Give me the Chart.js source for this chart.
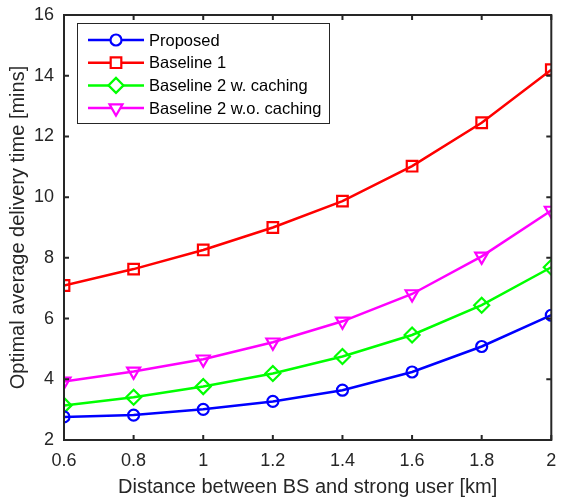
<!DOCTYPE html>
<html>
<head>
<meta charset="utf-8">
<script src="https://cdn.jsdelivr.net/npm/chart.js@4"></script>
<style>
  html, body { margin: 0; padding: 0; background: #fff; }
  #wrap { width: 561px; height: 499px; }
</style>
</head>
<body>
<div id="wrap"><canvas id="chart" width="561" height="499"></canvas></div>
<script>
const distances = [0.6, 0.8, 1.0, 1.2, 1.4, 1.6, 1.8, 2.0];
const xTicks = [0.6, 0.8, 1, 1.2, 1.4, 1.6, 1.8, 2];
const yTicks = [2, 4, 6, 8, 10, 12, 14, 16];

const proposed = [2.76, 2.82, 3.01, 3.27, 3.64, 4.24, 5.08, 6.11];
const baseline1 = [7.09, 7.63, 8.26, 9.0, 9.87, 11.02, 12.45, 14.2];
const baseline2Caching = [3.14, 3.41, 3.76, 4.19, 4.75, 5.46, 6.44, 7.69];
const baseline2NoCaching = [3.93, 4.26, 4.66, 5.22, 5.91, 6.81, 8.05, 9.56];

const seriesNames = ["Proposed", "Baseline 1", "Baseline 2 w. caching", "Baseline 2 w.o. caching"];
const axisColor = "#262626";
const fontFamily = "'Liberation Sans', Arial, sans-serif";

function makeSet(label, values, color, style, radius, rotation) {
    return {
        label: label,
        data: values.map((v, i) => ({ x: distances[i], y: v })),
        borderColor: color,
        backgroundColor: color,
        borderWidth: 2.5,
        pointStyle: style,
        pointRadius: radius,
        pointRotation: rotation || 0,
        pointBorderColor: color,
        pointBackgroundColor: "rgba(0,0,0,0)",
        pointBorderWidth: 2.2,
        tension: 0
    };
}

// legend inside the axes + inward ticks on all sides, matlab style
const matlabAxes = {
    id: "matlabAxes",
    afterDraw(chart) {
        const ctx = chart.ctx;
        const a = chart.chartArea;
        const xs = chart.scales.x, ys = chart.scales.y;
        ctx.save();
        ctx.strokeStyle = axisColor;
        ctx.lineWidth = 2;
        ctx.strokeRect(a.left, a.top, a.right - a.left, a.bottom - a.top);
        ctx.beginPath();
        xTicks.forEach(v => {
            const px = xs.getPixelForValue(v);
            ctx.moveTo(px, a.bottom); ctx.lineTo(px, a.bottom - 5);
            ctx.moveTo(px, a.top); ctx.lineTo(px, a.top + 5);
        });
        yTicks.forEach(v => {
            const py = ys.getPixelForValue(v);
            ctx.moveTo(a.left, py); ctx.lineTo(a.left + 5, py);
            ctx.moveTo(a.right, py); ctx.lineTo(a.right - 5, py);
        });
        ctx.stroke();

        // legend box
        const bx = 77, by = 23, bw = 252, bh = 100;
        ctx.fillStyle = "#fff";
        ctx.fillRect(bx, by, bw, bh);
        ctx.lineWidth = 1;
        ctx.strokeStyle = axisColor;
        ctx.strokeRect(bx + 0.5, by + 0.5, bw, bh);
        ctx.font = "16.5px " + fontFamily;
        ctx.textBaseline = "middle";
        chart.data.datasets.forEach((ds, i) => {
            const cy = by + 17 + i * 22.7;
            ctx.strokeStyle = ds.borderColor;
            ctx.lineWidth = 2.5;
            ctx.beginPath();
            ctx.moveTo(88, cy); ctx.lineTo(144, cy);
            ctx.stroke();
            ctx.fillStyle = "#fff";
            ctx.lineWidth = 2.2;
            Chart.helpers.drawPoint(ctx, {
                pointStyle: ds.pointStyle,
                radius: ds.pointRadius,
                rotation: ds.pointRotation,
                borderWidth: 2.2
            }, 116, cy);
            ctx.fillStyle = "#000";
            ctx.fillText(seriesNames[i], 149, cy + 1);
        });
        ctx.restore();
    }
};

new Chart(document.getElementById("chart"), {
    type: "line",
    data: {
        datasets: [
            makeSet(seriesNames[0], proposed, "#0000ff", "circle", 5.5),
            makeSet(seriesNames[1], baseline1, "#ff0000", "rect", 7.5),
            makeSet(seriesNames[2], baseline2Caching, "#00ff00", "rectRot", 7.5),
            makeSet(seriesNames[3], baseline2NoCaching, "#ff00ff", "triangle", 7.5, 180)
        ]
    },
    options: {
        responsive: false,
        animation: false,
        layout: { padding: { top: 15, right: 7, left: 0, bottom: 0 } },
        plugins: { legend: { display: false }, tooltip: { enabled: false } },
        scales: {
            x: {
                type: "linear",
                min: 0.6,
                max: 2,
                afterBuildTicks: s => { s.ticks = xTicks.map(v => ({ value: v })); },
                afterFit: s => { s.height = 59; s.paddingLeft = 0; s.paddingRight = 0; },
                grid: { display: false, drawTicks: false },
                border: { display: false },
                ticks: {
                    color: axisColor,
                    padding: 10,
                    maxRotation: 0,
                    font: { family: fontFamily, size: 18 },
                    callback: v => String(parseFloat(v.toFixed(1)))
                },
                title: {
                    display: true,
                    text: "Distance between BS and strong user [km]",
                    color: axisColor,
                    padding: { top: 0, bottom: 0 },
                    font: { family: fontFamily, size: 20 }
                }
            },
            y: {
                type: "linear",
                min: 2,
                max: 16,
                afterBuildTicks: s => { s.ticks = yTicks.map(v => ({ value: v })); },
                afterFit: s => { s.width = 64; s.paddingTop = 0; s.paddingBottom = 0; },
                grid: { display: false, drawTicks: false },
                border: { display: false },
                ticks: {
                    color: axisColor,
                    padding: 10,
                    font: { family: fontFamily, size: 18 }
                },
                title: {
                    display: true,
                    text: "Optimal average delivery time [mins]",
                    color: axisColor,
                    padding: { top: 6, bottom: 0 },
                    font: { family: fontFamily, size: 20 }
                }
            }
        }
    },
    plugins: [matlabAxes]
});
</script>
</body>
</html>
